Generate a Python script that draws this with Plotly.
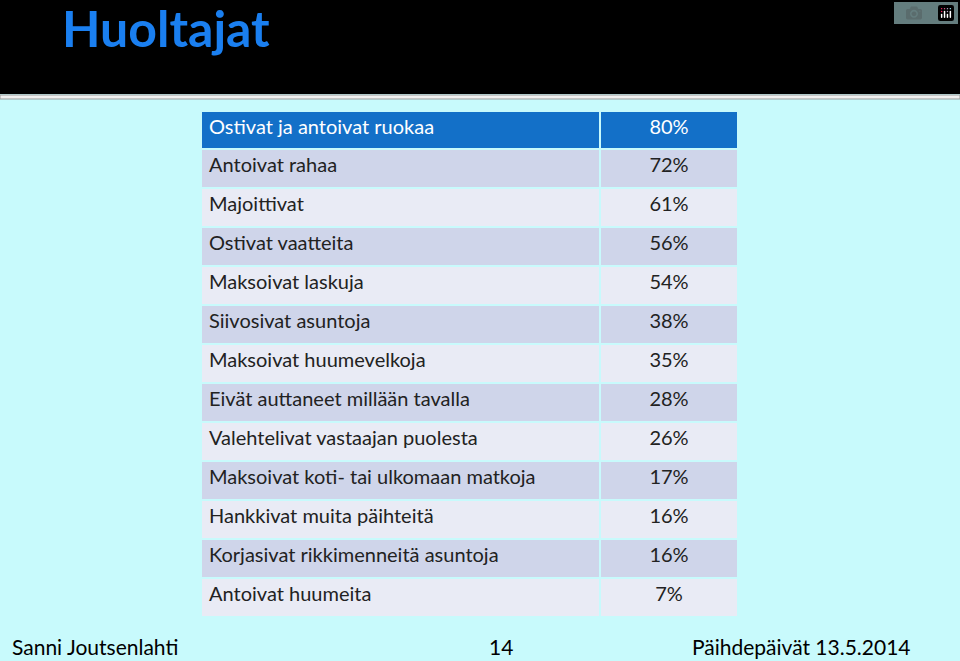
import plotly.graph_objects as go

header_label = "Ostivat ja antoivat ruokaa"
header_value = "80%"
labels = [
    "Antoivat rahaa", "Majoittivat", "Ostivat vaatteita", "Maksoivat laskuja",
    "Siivosivat asuntoja", "Maksoivat huumevelkoja", "Eivät auttaneet millään tavalla",
    "Valehtelivat vastaajan puolesta", "Maksoivat koti- tai ulkomaan matkoja",
    "Hankkivat muita päihteitä", "Korjasivat rikkimenneitä asuntoja", "Antoivat huumeita",
]
values = ["72%", "61%", "56%", "54%", "38%", "35%", "28%", "26%", "17%", "16%", "16%", "7%"]

W, H = 960, 661
font = "Lato, Open Sans, sans-serif"
row_colors = ["#cfd5ea" if i % 2 == 0 else "#e9ebf5" for i in range(len(labels))]

fig = go.Figure(go.Table(
    domain=dict(x=[201 / W, 738 / W], y=[0, 1 - 111 / H]),
    columnwidth=[399, 138],
    header=dict(values=[header_label, header_value], fill_color="#1370c8",
                line=dict(color="#c8fafc", width=2), height=38,
                align=["left", "center"],
                font=dict(family=font, size=20, color="white")),
    cells=dict(values=[labels, values], fill_color=[row_colors, row_colors],
               line=dict(color="#c8fafc", width=2), height=39,
               align=["left", "center"],
               font=dict(family=font, size=20, color="#222222")),
))

fig.update_layout(
    width=W, height=H, margin=dict(l=0, r=0, t=0, b=0),
    paper_bgcolor="#c8fafc",
    shapes=[
        dict(type="rect", xref="paper", yref="paper", x0=0, x1=1, y0=1 - 94 / H, y1=1,
             fillcolor="black", line_width=0, layer="below"),
        dict(type="rect", xref="paper", yref="paper", x0=0, x1=1, y0=1 - 99 / H, y1=1 - 95 / H,
             fillcolor="#f0f0f0", line=dict(color="#999999", width=1), layer="below"),
    ],
    annotations=[
        dict(text="<b>Huoltajat</b>", x=60 / W, y=1 - 28 / H, xref="paper", yref="paper",
             xanchor="left", yanchor="middle", showarrow=False,
             font=dict(family=font, size=50, color="#1a7ff0")),
        dict(text="Sanni Joutsenlahti", x=10 / W, y=1 - 646 / H, xref="paper", yref="paper",
             xanchor="left", yanchor="middle", showarrow=False,
             font=dict(family=font, size=21, color="black")),
        dict(text="14", x=501 / W, y=1 - 646 / H, xref="paper", yref="paper",
             xanchor="center", yanchor="middle", showarrow=False,
             font=dict(family=font, size=21, color="black")),
        dict(text="Päihdepäivät 13.5.2014", x=913 / W, y=1 - 646 / H, xref="paper", yref="paper",
             xanchor="right", yanchor="middle", showarrow=False,
             font=dict(family=font, size=21, color="black")),
    ],
)

# remove the default page margin so the figure fills the window
fig.write_html("out.html", post_script="document.body.style.margin='0';")
